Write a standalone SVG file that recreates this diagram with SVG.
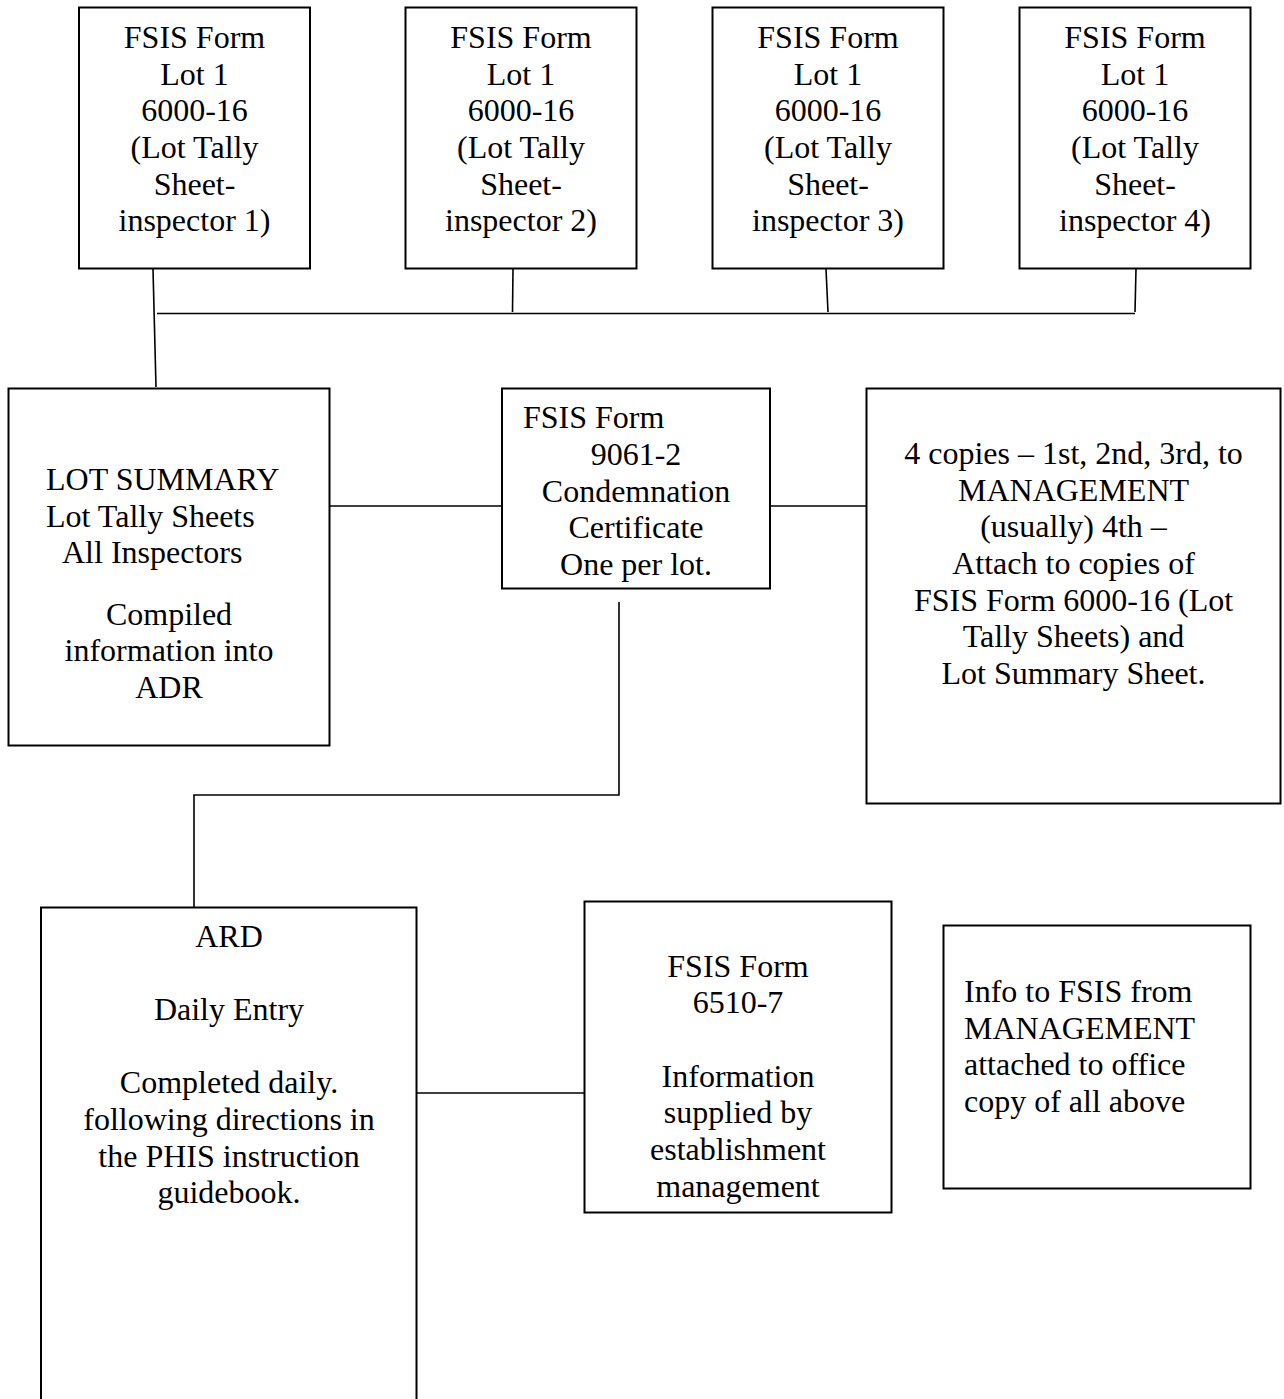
<svg xmlns="http://www.w3.org/2000/svg" width="1284" height="1399" viewBox="0 0 1284 1399">
<style>
.box{fill:#fff;stroke:#000;stroke-width:2}
.ln{fill:none;stroke:#000;stroke-width:1.6}
text{font-family:"Liberation Serif","Times New Roman",serif;font-size:32px;fill:#000}
.c{text-anchor:middle}
</style>
<rect width="1284" height="1399" fill="#fff"/>
<g id="connectors">
<polyline class="ln" points="153,269 156,387"/>
<line class="ln" x1="157" y1="313.5" x2="1135" y2="313.5"/>
<line class="ln" x1="513" y1="269" x2="512.5" y2="312"/>
<line class="ln" x1="826" y1="269" x2="828" y2="312"/>
<line class="ln" x1="1136" y1="269" x2="1135" y2="312"/>
<line class="ln" x1="330" y1="506" x2="502" y2="506"/>
<line class="ln" x1="770" y1="506" x2="866" y2="506"/>
<polyline class="ln" points="619,602 619,795 194,795 194,907"/>
<line class="ln" x1="417" y1="1093" x2="589" y2="1093"/>
</g>
<g id="tally1">
<rect class="box" x="79" y="7.5" width="231" height="261"/>
<text class="c" x="194.5" y="48">FSIS Form</text>
<text class="c" x="194.5" y="84.7">Lot 1</text>
<text class="c" x="194.5" y="121.3">6000-16</text>
<text class="c" x="194.5" y="158">(Lot Tally</text>
<text class="c" x="194.5" y="194.7">Sheet-</text>
<text class="c" x="194.5" y="231.3">inspector 1)</text>
</g>
<g id="tally2">
<rect class="box" x="405.5" y="7.5" width="231" height="261"/>
<text class="c" x="521" y="48">FSIS Form</text>
<text class="c" x="521" y="84.7">Lot 1</text>
<text class="c" x="521" y="121.3">6000-16</text>
<text class="c" x="521" y="158">(Lot Tally</text>
<text class="c" x="521" y="194.7">Sheet-</text>
<text class="c" x="521" y="231.3">inspector 2)</text>
</g>
<g id="tally3">
<rect class="box" x="712.5" y="7.5" width="231" height="261"/>
<text class="c" x="828" y="48">FSIS Form</text>
<text class="c" x="828" y="84.7">Lot 1</text>
<text class="c" x="828" y="121.3">6000-16</text>
<text class="c" x="828" y="158">(Lot Tally</text>
<text class="c" x="828" y="194.7">Sheet-</text>
<text class="c" x="828" y="231.3">inspector 3)</text>
</g>
<g id="tally4">
<rect class="box" x="1019.5" y="7.5" width="231" height="261"/>
<text class="c" x="1135" y="48">FSIS Form</text>
<text class="c" x="1135" y="84.7">Lot 1</text>
<text class="c" x="1135" y="121.3">6000-16</text>
<text class="c" x="1135" y="158">(Lot Tally</text>
<text class="c" x="1135" y="194.7">Sheet-</text>
<text class="c" x="1135" y="231.3">inspector 4)</text>
</g>
<g id="lotsummary">
<rect class="box" x="8.5" y="388.5" width="321" height="357"/>
<text x="46" y="490">LOT SUMMARY</text>
<text x="46" y="526.7">Lot Tally Sheets</text>
<text x="62" y="563.3">All Inspectors</text>
<text class="c" x="169" y="624.7">Compiled</text>
<text class="c" x="169" y="661.3">information into</text>
<text class="c" x="169" y="698">ADR</text>
</g>
<g id="condemnation">
<rect class="box" x="502" y="388.5" width="268" height="200"/>
<text x="523" y="428.3">FSIS Form</text>
<text class="c" x="636" y="465">9061-2</text>
<text class="c" x="636" y="501.7">Condemnation</text>
<text class="c" x="636" y="538.3">Certificate</text>
<text class="c" x="636" y="575">One per lot.</text>
</g>
<g id="copies">
<rect class="box" x="866.5" y="388.5" width="414" height="415"/>
<text class="c" x="1073.5" y="464">4 copies – 1st, 2nd, 3rd, to</text>
<text class="c" x="1073.5" y="500.7">MANAGEMENT</text>
<text class="c" x="1073.5" y="537.3">(usually) 4th –</text>
<text class="c" x="1073.5" y="574">Attach to copies of</text>
<text class="c" x="1073.5" y="610.7">FSIS Form 6000-16 (Lot</text>
<text class="c" x="1073.5" y="647.3">Tally Sheets) and</text>
<text class="c" x="1073.5" y="684">Lot Summary Sheet.</text>
</g>
<g id="ard">
<path class="box" d="M41,1400 V907.5 H416.5 V1400"/>
<text class="c" x="229" y="946.7">ARD</text>
<text class="c" x="229" y="1020">Daily Entry</text>
<text class="c" x="229" y="1093.3">Completed daily.</text>
<text class="c" x="229" y="1130">following directions in</text>
<text class="c" x="229" y="1166.7">the PHIS instruction</text>
<text class="c" x="229" y="1203.3">guidebook.</text>
</g>
<g id="form6510">
<rect class="box" x="584.5" y="901.5" width="307" height="311"/>
<text class="c" x="738" y="976.7">FSIS Form</text>
<text class="c" x="738" y="1013.3">6510-7</text>
<text class="c" x="738" y="1086.7">Information</text>
<text class="c" x="738" y="1123.3">supplied by</text>
<text class="c" x="738" y="1160">establishment</text>
<text class="c" x="738" y="1196.7">management</text>
</g>
<g id="info">
<rect class="box" x="943.5" y="925.5" width="307" height="263"/>
<text x="964" y="1002">Info to FSIS from</text>
<text x="964" y="1038.7">MANAGEMENT</text>
<text x="964" y="1075.3">attached to office</text>
<text x="964" y="1112">copy of all above</text>
</g>
</svg>
